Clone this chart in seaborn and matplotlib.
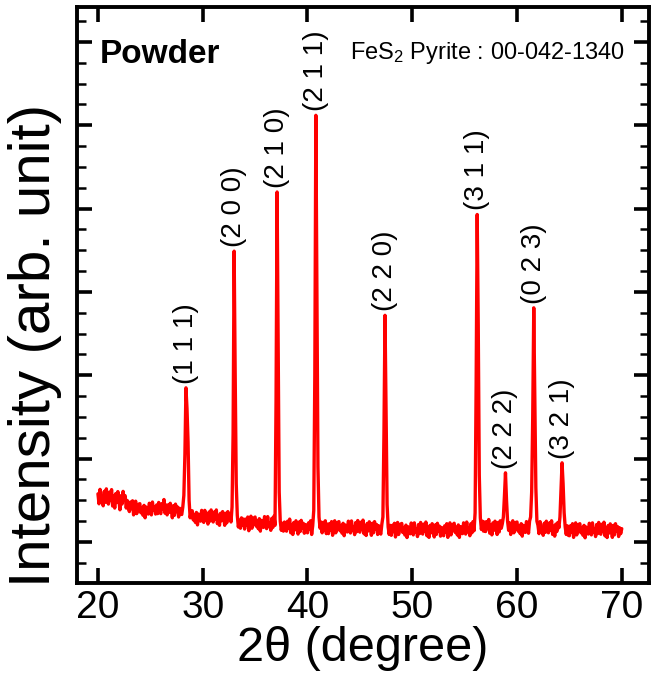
import numpy as np
import pandas as pd
import matplotlib
matplotlib.use("Agg")
import matplotlib.pyplot as plt
from matplotlib.ticker import MultipleLocator, NullFormatter
import seaborn as sns

# ---- data -------------------------------------------------------------
theta_start = 20.0
theta_step = 0.1

intensity = [
    # 20
    1578, 1458, 1632, 1494, 1542, 1434, 1608, 1476, 1638, 1506,
    # 21
    1455, 1599, 1497, 1629, 1431, 1551, 1407, 1581, 1473, 1605,
    # 22
    1502, 1386, 1556, 1455, 1608, 1504, 1555, 1407, 1498, 1406,
    # 23
    1365, 1480, 1400, 1495, 1325, 1425, 1490, 1340, 1400, 1455,
    # 24
    1460, 1350, 1410, 1320, 1440, 1290, 1420, 1395, 1335, 1465,
    # 25
    1425, 1325, 1480, 1385, 1425, 1335, 1445, 1340, 1475, 1365,
    # 26
    1340, 1460, 1400, 1510, 1345, 1445, 1325, 1445, 1355, 1465,
    # 27
    1395, 1290, 1435, 1320, 1455, 1365, 1420, 1300, 1405, 1335,
    # 28
    1330, 1420, 1560, 2050, 2850, 2600, 2200, 1500, 1290, 1370,
    # 29
    1375, 1265, 1325, 1235, 1355, 1205, 1335, 1310, 1250, 1380,
    # 30
    1335, 1235, 1380, 1265, 1305, 1215, 1360, 1250, 1385, 1275,
    # 31
    1240, 1360, 1275, 1385, 1220, 1320, 1200, 1345, 1255, 1365,
    # 32
    1305, 1200, 1345, 1230, 1365, 1275, 1330, 1240, 1420, 2300,
    # 33
    4490, 3000, 1700, 1320, 1180, 1260, 1165, 1290, 1200, 1275,
    # 34
    1155, 1275, 1200, 1300, 1135, 1240, 1310, 1165, 1230, 1290,
    # 35
    1300, 1190, 1250, 1160, 1280, 1130, 1260, 1235, 1175, 1305,
    # 36
    1260, 1160, 1305, 1190, 1230, 1140, 1285, 1175, 1310, 1200,
    # 37
    2700, 5200, 3300, 1600, 1250, 1140, 1225, 1130, 1240, 1150,
    # 38
    1130, 1250, 1165, 1275, 1110, 1210, 1090, 1235, 1145, 1255,
    # 39
    1200, 1095, 1240, 1125, 1260, 1170, 1225, 1105, 1210, 1140,
    # 40
    1110, 1230, 1155, 1255, 1090, 1195, 1380, 3000, 6120, 4100,
    # 41
    1900, 1300, 1165, 1240, 1110, 1235, 1145, 1255, 1100, 1215,
    # 42
    1100, 1220, 1145, 1245, 1080, 1185, 1255, 1110, 1175, 1235,
    # 43
    1245, 1135, 1195, 1105, 1225, 1075, 1205, 1180, 1120, 1250,
    # 44
    1208, 1108, 1253, 1138, 1178, 1088, 1233, 1123, 1258, 1148,
    # 45
    1118, 1238, 1153, 1263, 1098, 1198, 1078, 1223, 1133, 1243,
    # 46
    1185, 1080, 1225, 1110, 1245, 1155, 1210, 1090, 1195, 1125,
    # 47
    1095, 1215, 1300, 2300, 3720, 2600, 1450, 1180, 1090, 1200,
    # 48
    1080, 1200, 1125, 1225, 1060, 1165, 1235, 1090, 1155, 1215,
    # 49
    1223, 1113, 1173, 1083, 1203, 1053, 1183, 1158, 1098, 1228,
    # 50
    1185, 1085, 1230, 1115, 1155, 1065, 1210, 1100, 1235, 1125,
    # 51
    1095, 1215, 1130, 1240, 1075, 1175, 1055, 1200, 1110, 1220,
    # 52
    1165, 1060, 1205, 1090, 1225, 1135, 1190, 1070, 1175, 1105,
    # 53
    1075, 1195, 1120, 1220, 1055, 1160, 1230, 1085, 1150, 1210,
    # 54
    1225, 1115, 1175, 1085, 1205, 1055, 1185, 1160, 1100, 1230,
    # 55
    1195, 1095, 1240, 1125, 1165, 1075, 1220, 1110, 1245, 1135,
    # 56
    1350, 2900, 4930, 3600, 1800, 1290, 1150, 1250, 1130, 1240,
    # 57
    1125, 1245, 1160, 1270, 1105, 1205, 1085, 1230, 1140, 1250,
    # 58
    1195, 1090, 1235, 1120, 1255, 1165, 1220, 1300, 1550, 1830,
    # 59
    1500, 1250, 1140, 1230, 1090, 1190, 1255, 1110, 1175, 1235,
    # 60
    1240, 1130, 1190, 1100, 1220, 1070, 1200, 1175, 1115, 1245,
    # 61
    1205, 1105, 1250, 1300, 1600, 2500, 3810, 2700, 1650, 1250,
    # 62
    1200, 1100, 1245, 1130, 1170, 1080, 1225, 1115, 1250, 1140,
    # 63
    1110, 1230, 1145, 1255, 1090, 1190, 1070, 1215, 1125, 1235,
    # 64
    1170, 1300, 1620, 1950, 1700, 1350, 1180, 1090, 1195, 1080,
    # 65
    1075, 1195, 1120, 1220, 1055, 1160, 1230, 1085, 1150, 1210,
    # 66
    1220, 1110, 1170, 1080, 1200, 1050, 1180, 1155, 1095, 1225,
    # 67
    1185, 1085, 1230, 1115, 1155, 1065, 1210, 1100, 1235, 1125,
    # 68
    1093, 1213, 1128, 1238, 1073, 1173, 1053, 1198, 1108, 1218,
    # 69
    1160, 1055, 1200, 1085, 1220, 1130, 1185, 1065, 1170, 1100,
    # 70
    1160,
]

peak_labels = ["(1 1 1)", "(2 0 0)", "(2 1 0)", "(2 1 1)", "(2 2 0)",
               "(3 1 1)", "(2 2 2)", "(0 2 3)", "(3 2 1)"]
peak_positions = [28.4, 33.0, 37.1, 40.8, 47.4, 56.2, 58.9, 61.6, 64.3]
peak_heights = [2850, 4490, 5200, 6120, 3720, 4930, 1830, 3810, 1950]

x_ticks = [20, 30, 40, 50, 60, 70]

# ---- figure -----------------------------------------------------------
sns.set_theme(style="ticks")
plt.rcParams["font.family"] = ["Liberation Sans", "DejaVu Sans"]
plt.rcParams["mathtext.fontset"] = "custom"
plt.rcParams["mathtext.rm"] = "Liberation Sans"
plt.rcParams["mathtext.it"] = "Liberation Sans"
plt.rcParams["text.color"] = "black"
plt.rcParams["axes.labelcolor"] = "black"
plt.rcParams["xtick.color"] = "black"
plt.rcParams["ytick.color"] = "black"

two_theta = theta_start + theta_step * np.arange(len(intensity))
df = pd.DataFrame({"two_theta": two_theta, "intensity": intensity})

fig = plt.figure(figsize=(6.51, 6.89), dpi=100)
ax = fig.add_axes([0.11828, 0.15385, 0.87865, 0.83599])

sns.lineplot(data=df, x="two_theta", y="intensity", color="#ff0000",
             linewidth=2.4, estimator=None, ax=ax)

for lab, px, py in zip(peak_labels, peak_positions, peak_heights):
    ax.annotate(lab, xy=(px, py), xytext=(0, 3), textcoords="offset points",
                rotation=90, ha="center", va="bottom", fontsize=20,
                color="black")

ax.text(0.040, 0.9028, "Powder", transform=ax.transAxes, fontsize=24,
        fontweight="bold", ha="left", va="baseline", color="black")
ax.text(0.958, 0.9097, "FeS$_2$ Pyrite : 00-042-1340", transform=ax.transAxes,
        fontsize=17, ha="right", va="baseline", color="black")

ax.set_xlim(18.0, 72.6)
ax.set_ylim(508, 7420)
ax.set_xticks(x_ticks)
ax.yaxis.set_major_locator(MultipleLocator(1000))
ax.yaxis.set_minor_locator(MultipleLocator(250))
ax.yaxis.set_major_formatter(NullFormatter())

for side in ["left", "right", "top", "bottom"]:
    ax.spines[side].set_visible(True)
    ax.spines[side].set_linewidth(2.8)
    ax.spines[side].set_color("black")

ax.tick_params(axis="x", which="major", direction="in", length=11, width=2.6,
               top=True, bottom=True, labelsize=28, pad=5, colors="black")
ax.tick_params(axis="y", which="major", direction="in", length=11, width=2.6,
               left=True, right=True, labelleft=False, colors="black")
ax.tick_params(axis="y", which="minor", direction="in", length=6.5, width=1.8,
               left=True, right=True, colors="black")

ax.set_xlabel("2\u03b8 (degree)", fontsize=35, labelpad=0, color="black")
ax.set_ylabel("Intensity (arb. unit)", fontsize=42, color="black")
ax.yaxis.set_label_coords(-0.026, 0.413)

fig.savefig("out.png", dpi=100)
